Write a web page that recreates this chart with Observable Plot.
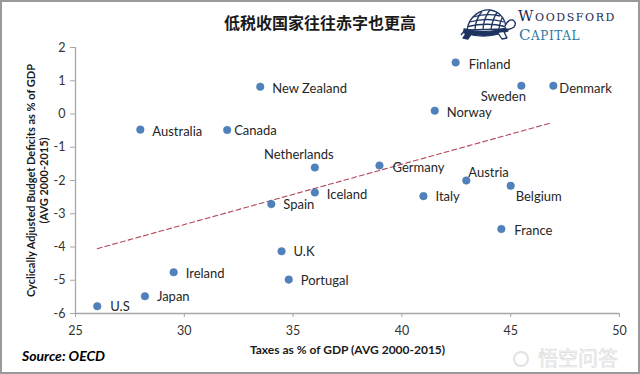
<!DOCTYPE html>
<html>
<head>
<meta charset="utf-8">
<script src="https://cdn.jsdelivr.net/npm/d3@7"></script>
<script src="https://cdn.jsdelivr.net/npm/@observablehq/plot@0.6"></script>
<style>
  html, body { margin: 0; padding: 0; background: #fff; }
  #wrap { position: relative; width: 640px; height: 374px; overflow: hidden; background: #fff; }
  #chart { position: absolute; left: 0; top: 0; }
  #overlay { position: absolute; left: 0; top: 0; pointer-events: none; }
  #border { position: absolute; inset: 0; border: 2px solid #9a9a9a; box-sizing: border-box; pointer-events: none; }
</style>
</head>
<body>
<div id="wrap">
  <div id="chart"></div>
  <svg id="overlay" width="640" height="374" viewBox="0 0 640 374">
    <text x="320" y="29" text-anchor="middle" font-family="'Noto Sans CJK SC'" font-weight="bold" font-size="16" fill="#1a1a1a">低税收国家往往赤字也更高</text>
    <!-- logo turtle -->
    <g transform="translate(461,7)" fill="none" stroke="#1d3461" stroke-width="1.3" stroke-linejoin="round">
      <path d="M6 23 C8 9, 20 2, 29 3 C38 4, 45 12, 45 22 Z" fill="#fff"/>
      <path d="M9 15 Q26 10 43 15"/>
      <path d="M7 19.5 Q26 15 44 19.5"/>
      <path d="M12 10 Q26 6 39 9"/>
      <path d="M14 22 Q15 11 21 4.5"/>
      <path d="M22 22 Q23 10 29 3"/>
      <path d="M30 22 Q32 11 36 5.5"/>
      <path d="M38 22 Q39 14 42 10"/>
      <path d="M3 22 Q25 28 47 20 L47 24 Q25 33 3 26 Z" fill="#1d3461"/>
      <path d="M44 19 Q47 12 52 13 Q56 16 53 20 Q49 23 46 22" fill="#fff"/>
      <path d="M37 26 L41 32 L46 31 L43 25" fill="#fff"/>
      <path d="M11 26 L7 32 L2 31 L6 25" fill="#1d3461"/>
      <path d="M4 23 L0 28"/>
    </g>
    <text x="518" y="21" font-family="'DejaVu Serif'" fill="#1d2a4d" letter-spacing="1.6"><tspan font-size="15">W</tspan><tspan font-size="11">OODSFORD</tspan></text>
    <text x="519" y="40" font-family="'DejaVu Serif'" fill="#2a78a3" letter-spacing="0.6"><tspan font-size="15">C</tspan><tspan font-size="12">APITAL</tspan></text>
    <text x="22" y="361" font-family="Lato" font-weight="bold" font-style="italic" font-size="14" fill="#000">Source: OECD</text>
    <g>
      <circle cx="521" cy="359" r="7" fill="none" stroke="#e2e2e2" stroke-width="2"/>
      <text x="538" y="366" font-family="'Noto Sans CJK SC'" font-size="20" fill="#f2f2f2" stroke="#dedede" stroke-width="0.6">悟空问答</text>
    </g>
  </svg>
  <div id="border"></div>
</div>
<script>
// ---- data ----
const countries = ["Finland","Sweden","Denmark","Norway","New Zealand","Australia","Canada","Netherlands","Germany","Austria","Belgium","Italy","Iceland","Spain","France","U.K","Portugal","Ireland","Japan","U.S"];
const taxes     = [42.47, 45.49, 46.96, 41.51, 33.49, 27.98, 31.97, 36.0, 38.97, 42.96, 45.0, 40.99, 36.0, 34.0, 44.57, 34.47, 34.8, 29.51, 28.19, 26.0];
const deficits  = [1.55, 0.85, 0.85, 0.10, 0.82, -0.47, -0.48, -1.61, -1.55, -2.0, -2.16, -2.47, -2.36, -2.71, -3.46, -4.13, -4.98, -4.76, -5.48, -5.78];
const trendX = [26.0, 46.9];
const trendY = [-4.05, -0.26];
const xTicks = [25, 30, 35, 40, 45, 50];
const yTicks = [-6, -5, -4, -3, -2, -1, 0, 1, 2];

// label placement (pixel offsets from each dot)
const labelPlacement = {
  "Finland": [13, 2, "start"], "Sweden": [-18, 11, "middle"], "Denmark": [6, 3, "start"],
  "Norway": [12, 2, "start"], "New Zealand": [12, 2, "start"], "Australia": [12, 2, "start"],
  "Canada": [7, 1, "start"], "Netherlands": [-16, -13, "middle"], "Germany": [13, 2, "start"],
  "Austria": [2, -8, "start"], "Belgium": [5, 11, "start"], "Italy": [12, 1, "start"],
  "Iceland": [12, 2, "start"], "Spain": [12, 1, "start"], "France": [13, 2, "start"],
  "U.K": [12, 1, "start"], "Portugal": [12, 1, "start"], "Ireland": [12, 2, "start"],
  "Japan": [12, 1, "start"], "U.S": [13, 1, "start"]
};

const data = countries.map((c, i) => ({country: c, tax: taxes[i], deficit: deficits[i]}));
const trend = trendX.map((x, i) => ({x, y: trendY[i]}));

const axisGray = "#a6a6a6";
const labelMarks = countries.map(c => {
  const [dx, dy, anchor] = labelPlacement[c];
  return Plot.text(data.filter(d => d.country === c), {
    x: "tax", y: "deficit", text: "country", dx, dy, textAnchor: anchor,
    fontSize: 13, fill: "#262626"
  });
});

const chart = Plot.plot({
  width: 640,
  height: 374,
  marginLeft: 75,
  marginRight: 21,
  marginTop: 47,
  marginBottom: 61,
  style: {fontFamily: "Lato", fontSize: "12px", background: "transparent", color: "#333"},
  x: {domain: [25, 50]},
  y: {domain: [-6, 2]},
  marks: [
    Plot.axisX({ticks: xTicks, tickSize: 4, tickPadding: 9, stroke: axisGray, fill: "#333", fontSize: 12.5, label: null, tickFormat: d => String(d)}),
    Plot.axisY({ticks: yTicks, tickSize: 5, tickPadding: 5, stroke: axisGray, fill: "#333", fontSize: 12.5, label: null, tickFormat: d => String(d)}),
    Plot.ruleX([25], {stroke: axisGray, strokeWidth: 1.3}),
    Plot.ruleY([-6], {stroke: axisGray, strokeWidth: 1.3}),
    Plot.line(trend, {x: "x", y: "y", stroke: "#b5475a", strokeWidth: 1.1, strokeDasharray: "5,3"}),
    Plot.dot(data, {x: "tax", y: "deficit", r: 3.8, fill: "#4f81bd", stroke: "#4a78b0", strokeWidth: 0.5}),
    ...labelMarks,
    Plot.text(["Taxes as % of GDP (AVG 2000-2015)"], {text: d => d, frameAnchor: "bottom", dy: 40, fontWeight: "bold", fontSize: 12, fill: "#1a1a1a"}),
    Plot.text(["Cyclically Adjusted Budget Deficits as % of GDP\n(AVG 2000-2015)"], {text: d => d, frameAnchor: "left", textAnchor: "middle", rotate: -90, dx: -38, lineHeight: 1.2, fontWeight: "bold", fontSize: 11, fill: "#1a1a1a"})
  ]
});
document.getElementById("chart").appendChild(chart);
</script>
</body>
</html>
